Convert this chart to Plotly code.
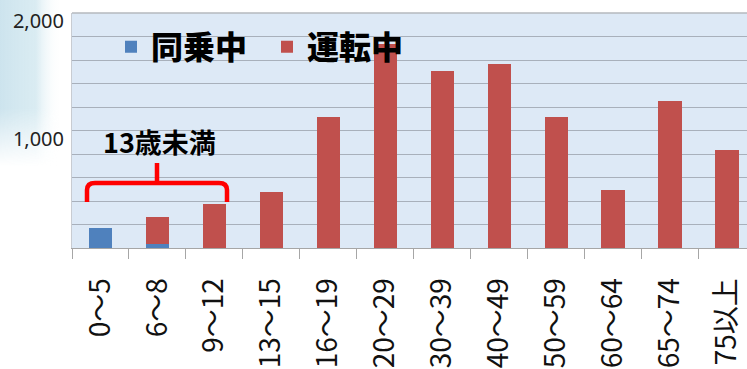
import base64
import plotly.graph_objects as go

# Age groups and casualty counts
age_groups = ["0～5", "6～8", "9～12", "13～15", "16～19", "20～29",
              "30～39", "40～49", "50～59", "60～64", "65～74", "75以上"]
passenger = [170, 30, 0, 0, 0, 0, 0, 0, 0, 0, 0, 0]          # 同乗中
riding = [0, 236, 377, 477, 1117, 1740, 1509, 1566, 1117, 494, 1253, 830]  # 運転中

y_tickvals = list(range(0, 2001, 200))
y_ticktext = ["1,000" if v == 1000 else "2,000" if v == 2000 else "" for v in y_tickvals]

BLUE = "#4f81bd"
RED = "#c0504d"
CJK = "Noto Sans CJK JP"

fig = go.Figure()
fig.add_trace(go.Bar(x=age_groups, y=passenger, name="同乗中", marker_color=BLUE,
                     marker_line_width=0))
fig.add_trace(go.Bar(x=age_groups, y=riding, name="運転中", marker_color=RED,
                     marker_line_width=0))

# soft light-blue haze at the top-left corner of the page
svg = (
    '<svg xmlns="http://www.w3.org/2000/svg" width="72" height="175">'
    '<defs>'
    '<linearGradient id="h" x1="0" y1="0" x2="1" y2="0">'
    '<stop offset="0" stop-color="#cde4ee" stop-opacity="1"/>'
    '<stop offset="0.5" stop-color="#d6eaf1" stop-opacity="0.9"/>'
    '<stop offset="0.85" stop-color="#ffffff" stop-opacity="0"/>'
    '</linearGradient>'
    '<linearGradient id="v" x1="0" y1="0" x2="0" y2="1">'
    '<stop offset="0.62" stop-color="white"/>'
    '<stop offset="0.95" stop-color="black"/>'
    '</linearGradient>'
    '<mask id="m"><rect width="72" height="175" fill="url(#v)"/></mask>'
    '</defs>'
    '<rect width="72" height="175" fill="url(#h)" mask="url(#m)"/>'
    '</svg>'
)
haze_uri = "data:image/svg+xml;base64," + base64.b64encode(svg.encode()).decode()

L, T, B, W, H = 72, 13, 121, 747, 369
pw = W - L
ph = H - T - B


def px(xp):
    return (xp - L) / pw


def py(yp):
    return (H - B - yp) / ph


# red bracket grouping the under-13 age groups
brace = (
    f"M {px(87)},{py(202)} L {px(87)},{py(190)} "
    f"Q {px(87)},{py(183)} {px(95)},{py(183)} "
    f"L {px(219)},{py(183)} "
    f"Q {px(227)},{py(183)} {px(227)},{py(190)} "
    f"L {px(227)},{py(202)} "
    f"M {px(157)},{py(183)} L {px(157)},{py(163)}"
)

fig.update_layout(
    width=W, height=H,
    margin=dict(l=L, r=0, t=T, b=B, autoexpand=False),
    barmode="stack",
    bargap=0.59,
    paper_bgcolor="white",
    plot_bgcolor="#dde9f6",
    font=dict(family=CJK, color="#222222"),
    showlegend=True,
    legend=dict(
        orientation="h", x=px(111), y=py(47), xanchor="left", yanchor="middle",
        font=dict(family=CJK, size=32, color="#000000", weight=900),
        bgcolor="rgba(0,0,0,0)", entrywidth=111, entrywidthmode="pixels",
        traceorder="normal",
    ),
    xaxis=dict(
        range=[-0.5, 11.35], type="category",
        showgrid=False, showline=True, linecolor="#a6a6a6", linewidth=1,
        ticks="outside", ticklen=10, tickcolor="#a6a6a6", tickson="boundaries",
        tickangle=-90, tickfont=dict(family=CJK, size=28, color="#111111"),
        ticklabelstandoff=18, automargin=False,
    ),
    yaxis=dict(
        range=[0, 2000], tickvals=y_tickvals, ticktext=y_ticktext,
        showgrid=True, gridcolor="#a8b0bb", gridwidth=1,
        showline=True, linecolor="#c8ccd2", linewidth=1, mirror=False,
        ticks="", tickfont=dict(family="Noto Sans", size=20, color="#222222"),
        ticklabelshift=8, ticklabelstandoff=3, automargin=False, zeroline=False,
    ),
    images=[dict(
        source=haze_uri, xref="paper", yref="paper",
        x=px(0), y=py(0), sizex=72 / pw, sizey=175 / ph,
        xanchor="left", yanchor="top", sizing="stretch", layer="below",
    )],
    shapes=[
        dict(type="line", xref="paper", yref="paper", x0=0, x1=1, y0=1, y1=1,
             line=dict(color="#b4b8be", width=1.5)),
        dict(type="path", xref="paper", yref="paper", path=brace,
             line=dict(color="#ff0000", width=4.5), layer="above"),
    ],
    annotations=[dict(
        text="<b>13歳未満</b>", x="6～8", y=905, xref="x", yref="y",
        showarrow=False, xshift=2,
        font=dict(family=CJK, size=27, color="#000000", weight=900),
    )],
)

fig.write_html("out.html")
